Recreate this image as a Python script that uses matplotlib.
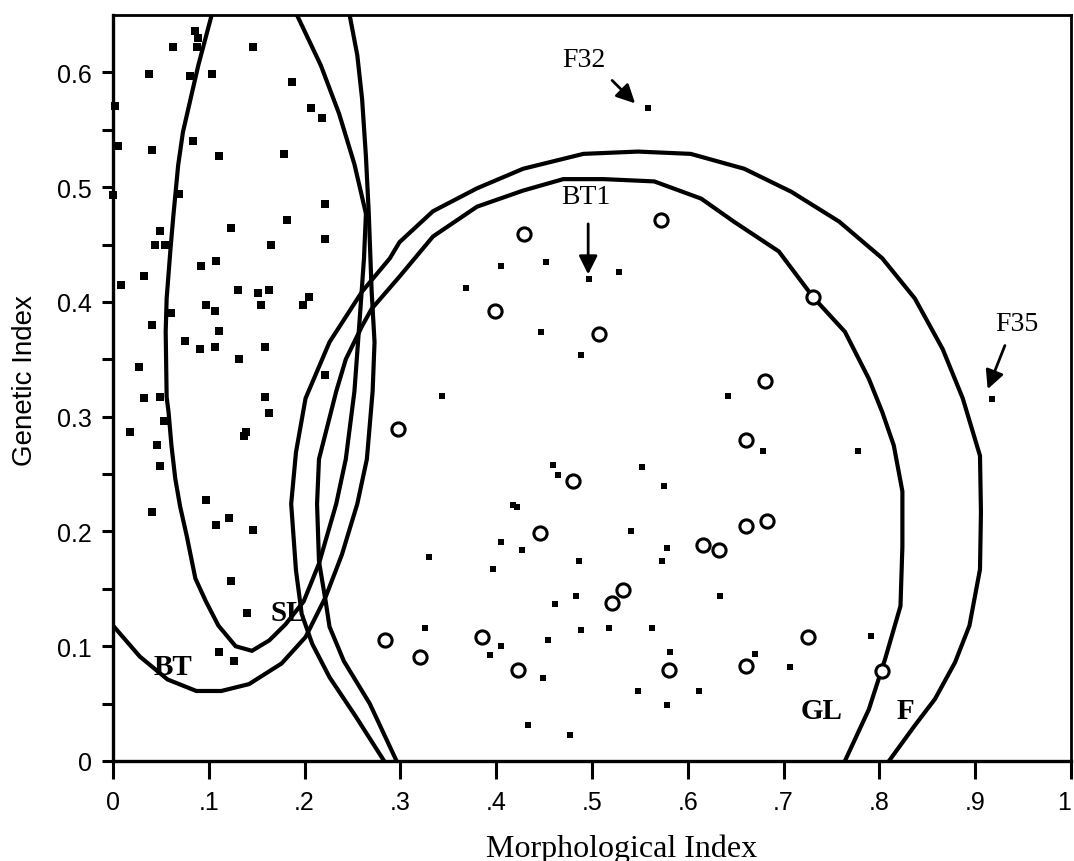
import matplotlib
matplotlib.use("Agg")
import matplotlib.pyplot as plt

# squares of the BT / SL cluster (larger marks)
bt_x = [0.086, 0.063, 0.088, 0.089, 0.146, 0.038, 0.080, 0.103, 0.187, 0.002,
        0.207, 0.218, 0.005, 0.041, 0.084, 0.111, 0.179, 0.000, 0.069, 0.221,
        0.049, 0.123, 0.182, 0.044, 0.054, 0.165, 0.221, 0.092, 0.108, 0.032,
        0.008, 0.130, 0.151, 0.163, 0.155, 0.205, 0.198, 0.097, 0.106, 0.061,
        0.041, 0.111, 0.075, 0.091, 0.106, 0.159, 0.132, 0.027, 0.221, 0.032,
        0.049, 0.159, 0.163, 0.018, 0.053, 0.137, 0.139, 0.046, 0.049, 0.041,
        0.097, 0.108, 0.121, 0.146, 0.123, 0.140, 0.111, 0.126]
bt_y = [0.636, 0.622, 0.622, 0.630, 0.622, 0.599, 0.597, 0.599, 0.592, 0.571,
        0.569, 0.560, 0.536, 0.532, 0.540, 0.527, 0.529, 0.493, 0.494, 0.485,
        0.462, 0.464, 0.471, 0.450, 0.450, 0.450, 0.455, 0.431, 0.436, 0.423,
        0.415, 0.410, 0.408, 0.410, 0.397, 0.404, 0.397, 0.397, 0.392, 0.390,
        0.380, 0.375, 0.366, 0.359, 0.361, 0.361, 0.350, 0.343, 0.336, 0.316,
        0.317, 0.317, 0.303, 0.287, 0.296, 0.283, 0.287, 0.275, 0.257, 0.217,
        0.227, 0.206, 0.212, 0.201, 0.157, 0.129, 0.095, 0.087]

# squares of the GL / F cluster (small marks)
f_x = [0.558, 0.405, 0.452, 0.497, 0.528, 0.368, 0.447, 0.488, 0.343, 0.642,
       0.679, 0.778, 0.459, 0.464, 0.552, 0.575, 0.418, 0.422, 0.405, 0.427,
       0.330, 0.397, 0.486, 0.541, 0.578, 0.573, 0.634, 0.483, 0.461, 0.326,
       0.489, 0.518, 0.563, 0.405, 0.454, 0.394, 0.449, 0.581, 0.548, 0.612,
       0.578, 0.433, 0.477, 0.670, 0.707, 0.791, 0.918]
f_y = [0.569, 0.431, 0.435, 0.420, 0.426, 0.412, 0.374, 0.354, 0.318, 0.318,
       0.270, 0.270, 0.258, 0.249, 0.256, 0.240, 0.223, 0.221, 0.191, 0.184,
       0.178, 0.167, 0.174, 0.200, 0.186, 0.174, 0.144, 0.144, 0.137, 0.116,
       0.114, 0.116, 0.116, 0.100, 0.105, 0.092, 0.072, 0.095, 0.061, 0.061,
       0.049, 0.031, 0.023, 0.093, 0.082, 0.109, 0.315]

# open circles
gl_x = [0.297, 0.284, 0.429, 0.572, 0.399, 0.507, 0.731, 0.681, 0.661, 0.480,
        0.446, 0.661, 0.683, 0.616, 0.633, 0.532, 0.521, 0.385, 0.320, 0.423,
        0.580, 0.725, 0.661, 0.803]
gl_y = [0.289, 0.105, 0.459, 0.471, 0.392, 0.372, 0.404, 0.331, 0.280, 0.244,
        0.199, 0.205, 0.209, 0.188, 0.184, 0.149, 0.138, 0.108, 0.091, 0.079,
        0.079, 0.108, 0.083, 0.078]

# traced outlines
sl_x = [0.103, 0.089, 0.081, 0.073, 0.068, 0.063, 0.060, 0.056, 0.055, 0.056,
        0.058, 0.061, 0.065, 0.070, 0.077, 0.086, 0.097, 0.110, 0.128, 0.145,
        0.163, 0.180, 0.199, 0.215, 0.233, 0.243, 0.252, 0.257, 0.262, 0.264,
        0.252, 0.236, 0.217, 0.192]
sl_y = [0.650, 0.606, 0.577, 0.548, 0.519, 0.475, 0.446, 0.403, 0.374, 0.317,
        0.304, 0.275, 0.246, 0.222, 0.196, 0.159, 0.139, 0.118, 0.100, 0.096,
        0.105, 0.119, 0.139, 0.172, 0.224, 0.263, 0.322, 0.379, 0.438, 0.477,
        0.520, 0.564, 0.606, 0.650]

bt_line_x = [0.000, 0.028, 0.057, 0.087, 0.113, 0.142, 0.176, 0.201, 0.222, 0.239,
             0.255, 0.265, 0.271, 0.273, 0.270, 0.267, 0.264, 0.260, 0.255, 0.247]
bt_line_y = [0.118, 0.091, 0.071, 0.061, 0.061, 0.067, 0.085, 0.108, 0.143, 0.180,
             0.224, 0.263, 0.322, 0.365, 0.409, 0.477, 0.527, 0.577, 0.615, 0.650]

f_line_x = [0.283, 0.254, 0.226, 0.208, 0.197, 0.191, 0.186, 0.191, 0.201, 0.226,
            0.260, 0.289, 0.299, 0.334, 0.380, 0.428, 0.491, 0.548, 0.603, 0.659,
            0.708, 0.758, 0.803, 0.837, 0.866, 0.887, 0.905, 0.906, 0.905, 0.894,
            0.879, 0.858, 0.837, 0.810]
f_line_y = [0.000, 0.038, 0.073, 0.102, 0.128, 0.166, 0.224, 0.269, 0.316, 0.365,
            0.409, 0.438, 0.452, 0.479, 0.499, 0.516, 0.529, 0.531, 0.529, 0.516,
            0.496, 0.470, 0.438, 0.403, 0.359, 0.316, 0.266, 0.217, 0.167, 0.118,
            0.086, 0.054, 0.031, 0.000]

gl_line_x = [0.296, 0.268, 0.241, 0.226, 0.222, 0.215, 0.213, 0.215, 0.233, 0.243,
             0.260, 0.270, 0.299, 0.334, 0.380, 0.428, 0.470, 0.512, 0.565, 0.614,
             0.648, 0.695, 0.731, 0.764, 0.789, 0.803, 0.815, 0.824, 0.824, 0.822,
             0.806, 0.789, 0.764]
gl_line_y = [0.000, 0.050, 0.087, 0.117, 0.139, 0.174, 0.224, 0.263, 0.322, 0.350,
             0.379, 0.394, 0.422, 0.457, 0.483, 0.497, 0.507, 0.507, 0.505, 0.490,
             0.470, 0.444, 0.404, 0.374, 0.333, 0.304, 0.275, 0.235, 0.187, 0.135,
             0.089, 0.045, 0.000]

region_labels = ["BT", "SL", "GL", "F"]
region_pos = [(0.063, 0.082), (0.183, 0.129), (0.740, 0.044), (0.827, 0.044)]

point_labels = ["BT1", "F32", "F35"]
label_pos = [(0.494, 0.492), (0.491, 0.611), (0.943, 0.381)]
arrow_tail = [(0.496, 0.468), (0.521, 0.593), (0.931, 0.362)]
arrow_tip = [(0.496, 0.424), (0.545, 0.573), (0.913, 0.324)]

x_ticks = [0, 0.1, 0.2, 0.3, 0.4, 0.5, 0.6, 0.7, 0.8, 0.9, 1.0]
x_ticklabels = ["0", ".1", ".2", ".3", ".4", ".5", ".6", ".7", ".8", ".9", "1"]
y_ticks = [0, 0.1, 0.2, 0.3, 0.4, 0.5, 0.6]
y_ticklabels = ["0", "0.1", "0.2", "0.3", "0.4", "0.5", "0.6"]


def main():
    fig = plt.figure(figsize=(10.74, 8.62), dpi=100)
    ax = fig.add_axes([113 / 1074, 100 / 862, 958 / 1074, 746 / 862])

    for xs, ys in [(sl_x, sl_y), (bt_line_x, bt_line_y),
                   (f_line_x, f_line_y), (gl_line_x, gl_line_y)]:
        ax.plot(xs, ys, color="black", lw=3, solid_joinstyle="miter")

    ax.plot(bt_x, bt_y, "s", color="black", ms=6.2, mew=0, clip_on=False)
    ax.plot(f_x, f_y, "s", color="black", ms=4.5, mew=0)
    ax.plot(gl_x, gl_y, "o", mfc="white", mec="black", ms=9.5, mew=2.2)

    for lab, (x, y) in zip(region_labels, region_pos):
        ax.text(x, y, lab, ha="center", va="center", fontsize=21,
                fontweight="bold", family="Liberation Serif")

    for lab, (x, y), t0, t1 in zip(point_labels, label_pos, arrow_tail, arrow_tip):
        ax.text(x, y, lab, ha="center", va="center", fontsize=20,
                family="Liberation Serif")
        ax.annotate("", xy=t1, xytext=t0,
                    arrowprops=dict(arrowstyle="-|>", color="black", lw=2,
                                    mutation_scale=28, shrinkA=0, shrinkB=0))

    ax.set_xlim(0, 1)
    ax.set_ylim(0, 0.65)
    ax.set_xticks(x_ticks)
    ax.set_xticklabels(x_ticklabels)
    ax.set_yticks(y_ticks)
    ax.set_yticklabels(y_ticklabels)
    ax.set_yticks([0.05, 0.15, 0.25, 0.35, 0.45, 0.55], minor=True)
    ax.tick_params(axis="x", direction="out", length=13, width=2.2, pad=8,
                   labelsize=18)
    ax.tick_params(axis="y", which="both", direction="out", length=8, width=2.2,
                   pad=7, labelsize=18)
    for lab in ax.get_xticklabels() + ax.get_yticklabels():
        lab.set_family("Liberation Sans")
    # keep the "1" at the right edge inside the picture
    ax.get_xticklabels()[-1].set_horizontalalignment("right")

    ax.spines["left"].set_linewidth(2.4)
    ax.spines["bottom"].set_linewidth(2.4)
    ax.spines["top"].set_linewidth(2)
    ax.spines["right"].set_linewidth(2)

    fig.text(622 / 1074, 1 - 857 / 862, "Morphological Index", ha="center",
             va="baseline", fontsize=23, family="Liberation Serif")
    fig.text(25 / 1074, 1 - 381 / 862, "Genetic Index", ha="center",
             va="center", rotation=90, fontsize=20, family="Liberation Sans")

    fig.savefig("out.png", dpi=100)


if __name__ == "__main__":
    main()
